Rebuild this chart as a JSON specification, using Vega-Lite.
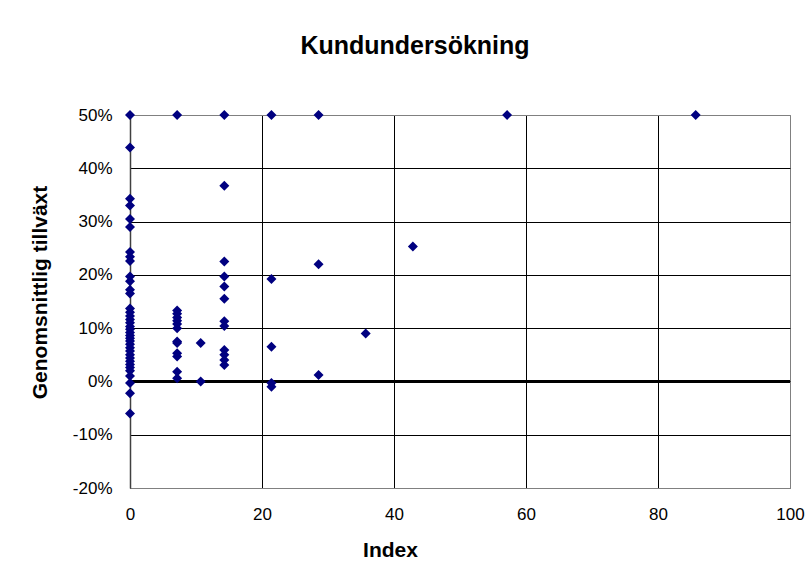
{
  "$schema": "https://vega.github.io/schema/vega-lite/v6.json",
  "width": 660,
  "height": 373,
  "autosize": {"type": "none"},
  "padding": {"left": 130, "top": 115, "right": 21, "bottom": 96},
  "background": "white",
  "config": {
    "font": "Liberation Sans",
    "view": {"stroke": "#808080", "strokeWidth": 1}
  },
  "title": {
    "text": "Kundundersökning",
    "font": "Liberation Sans",
    "fontSize": 25,
    "fontWeight": "bold",
    "color": "black",
    "anchor": "middle",
    "frame": "group",
    "dx": -45,
    "offset": 47
  },
  "data": {
    "values": [
      {"index": 0, "growth": 50}, {"index": 0, "growth": 43.9}, {"index": 0, "growth": 34.3}, {"index": 0, "growth": 33.0},
      {"index": 0, "growth": 30.5}, {"index": 0, "growth": 29.0}, {"index": 0, "growth": 24.3}, {"index": 0, "growth": 23.4},
      {"index": 0, "growth": 22.6}, {"index": 0, "growth": 19.7}, {"index": 0, "growth": 18.8}, {"index": 0, "growth": 17.2},
      {"index": 0, "growth": 16.5}, {"index": 0, "growth": 13.7}, {"index": 0, "growth": 13.0}, {"index": 0, "growth": 12.3},
      {"index": 0, "growth": 11.6}, {"index": 0, "growth": 11.0}, {"index": 0, "growth": 10.3}, {"index": 0, "growth": 9.8},
      {"index": 0, "growth": 9.2}, {"index": 0, "growth": 8.6}, {"index": 0, "growth": 8.1}, {"index": 0, "growth": 7.6},
      {"index": 0, "growth": 7.0}, {"index": 0, "growth": 6.3}, {"index": 0, "growth": 5.7}, {"index": 0, "growth": 5.0},
      {"index": 0, "growth": 4.4}, {"index": 0, "growth": 3.8}, {"index": 0, "growth": 3.2}, {"index": 0, "growth": 2.6},
      {"index": 0, "growth": 2.0}, {"index": 0, "growth": 1.0}, {"index": 0, "growth": -0.3}, {"index": 0, "growth": -2.2},
      {"index": 0, "growth": -6.0},
      {"index": 7.14, "growth": 50}, {"index": 7.14, "growth": 13.3}, {"index": 7.14, "growth": 12.7}, {"index": 7.14, "growth": 12.0},
      {"index": 7.14, "growth": 11.4}, {"index": 7.14, "growth": 10.8}, {"index": 7.14, "growth": 10.0}, {"index": 7.14, "growth": 7.5},
      {"index": 7.14, "growth": 7.2}, {"index": 7.14, "growth": 5.3}, {"index": 7.14, "growth": 4.7}, {"index": 7.14, "growth": 1.8},
      {"index": 7.14, "growth": 0.6},
      {"index": 10.71, "growth": 7.2}, {"index": 10.71, "growth": 0.0},
      {"index": 14.29, "growth": 50}, {"index": 14.29, "growth": 36.7}, {"index": 14.29, "growth": 22.5}, {"index": 14.29, "growth": 19.7},
      {"index": 14.29, "growth": 17.8}, {"index": 14.29, "growth": 15.5}, {"index": 14.29, "growth": 11.3}, {"index": 14.29, "growth": 10.4},
      {"index": 14.29, "growth": 5.9}, {"index": 14.29, "growth": 5.0}, {"index": 14.29, "growth": 4.0}, {"index": 14.29, "growth": 3.1},
      {"index": 21.43, "growth": 50}, {"index": 21.43, "growth": 19.2}, {"index": 21.43, "growth": 6.5}, {"index": 21.43, "growth": -0.3},
      {"index": 21.43, "growth": -1.0},
      {"index": 28.57, "growth": 50}, {"index": 28.57, "growth": 22.0}, {"index": 28.57, "growth": 1.2},
      {"index": 35.71, "growth": 9.0},
      {"index": 42.86, "growth": 25.3},
      {"index": 57.14, "growth": 50},
      {"index": 85.71, "growth": 50}
    ]
  },
  "encoding": {
    "x": {
      "field": "index",
      "type": "quantitative",
      "title": "Index",
      "scale": {"domain": [0, 100], "nice": false},
      "axis": {
        "values": [0, 20, 40, 60, 80, 100],
        "grid": true,
        "gridColor": {"condition": {"test": "datum.value == 100", "value": "#808080"}, "value": "black"},
        "gridWidth": 1,
        "gridOpacity": 1,
        "ticks": false,
        "domain": true,
        "domainColor": "#808080",
        "labelFlush": false,
        "labelFont": "Liberation Sans",
        "labelFontSize": 17,
        "labelColor": "black",
        "labelPadding": 18,
        "titleFont": "Liberation Sans",
        "titleFontSize": 21,
        "titleFontWeight": "bold",
        "titleColor": "black",
        "titlePadding": 17,
        "titleX": 260,
        "titleAlign": "center"
      }
    },
    "y": {
      "field": "growth",
      "type": "quantitative",
      "title": "Genomsnittlig tillväxt",
      "scale": {"domain": [-20, 50], "nice": false},
      "axis": {
        "values": [-20, -10, 0, 10, 20, 30, 40, 50],
        "labelExpr": "datum.value + '%'",
        "grid": true,
        "gridColor": {"condition": {"test": "datum.value == 50 || datum.value == -20", "value": "#808080"}, "value": "black"},
        "gridWidth": 1,
        "gridOpacity": 1,
        "ticks": false,
        "domain": true,
        "domainColor": "#404040",
        "domainWidth": 1.5,
        "labelFlush": false,
        "labelFont": "Liberation Sans",
        "labelFontSize": 17,
        "labelColor": "black",
        "labelPadding": 18,
        "titleFont": "Liberation Sans",
        "titleFontSize": 21,
        "titleFontWeight": "bold",
        "titleColor": "black",
        "titlePadding": 22,
        "titleY": 177,
        "titleAlign": "center"
      }
    }
  },
  "layer": [
    {
      "mark": {"type": "rule", "color": "black", "strokeWidth": 3},
      "encoding": {
        "y": {"datum": 0},
        "x": {"datum": 0},
        "x2": {"datum": 100}
      }
    },
    {
      "mark": {"type": "point", "shape": "diamond", "size": 100, "filled": true, "color": "#000080", "opacity": 1}
    }
  ]
}
